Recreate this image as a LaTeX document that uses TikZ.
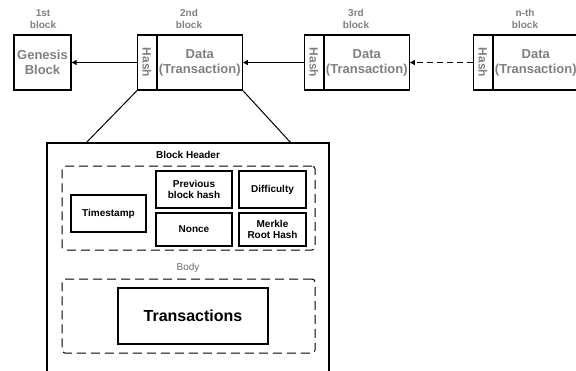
\documentclass[tikz,border=0pt]{standalone}
\usepackage{fontspec}
\setmainfont{Liberation Sans}
\usetikzlibrary{arrows.meta,positioning,calc}

\begin{document}
\begin{tikzpicture}[x=1pt,y=-1pt,
    blk/.style={draw,line width=1.2pt,minimum height=55pt,inner sep=0pt,align=center,
      text=gray,font=\fontsize{13}{15}\selectfont\bfseries},
    hashbox/.style={blk,minimum width=18.5pt,font=\fontsize{12}{13}\selectfont\bfseries},
    fld/.style={draw,line width=1.2pt,inner sep=0pt,align=center,
      font=\fontsize{10}{11.5}\selectfont\bfseries},
    grp/.style={draw,line width=1pt,dash pattern=on 9pt off 5pt,rounded corners=3pt},
    lbl/.style={align=center,text=gray,font=\fontsize{10}{12}\selectfont\bfseries},
    lnk/.style={line width=1pt,-{Triangle[length=5pt,width=5pt]}}]
  \useasboundingbox (0,0) rectangle (576,370);

  % chain of blocks
  \node[blk,minimum width=57pt] (gen) at (42.5,62.5) {Genesis\\Block};
  \node[lbl] (tgen) at (43,19) {1st\\block};
  \foreach \i/\x/\t in {2/137/2nd,3/304/3rd,n/473/n-th}{
    \node[hashbox,anchor=west] (h\i) at (\x,62.5) {\rotatebox{-90}{Hash}};
    \node[blk,minimum width=85pt,anchor=west] (d\i) at (h\i.east) {Data\\(Transaction)};
    \node[lbl] (t\i) at (\x+52,19) {\t\\block};
  }
  \draw[lnk] (h2.west) -- (gen.east);
  \draw[lnk] (h3.west) -- (d2.east);
  \draw[lnk,dash pattern=on 6pt off 4pt] (hn.west) -- (d3.east);

  % zoom into 2nd block
  \draw[line width=1.2pt] (47,375) |- (329,143) -- (329,375);
  \coordinate (tl) at (86,143);
  \coordinate (tr) at (291,143);
  \draw[line width=1pt] (h2.south west) -- (tl);
  \draw[line width=1pt] (d2.south east) -- (tr);

  % header
  \node[font=\fontsize{10}{12}\selectfont\bfseries] (hdr) at (188,155) {Block Header};
  \node[grp,minimum width=253pt,minimum height=84pt] (head) at (188.5,208) {};
  \node[fld,minimum width=75pt,minimum height=37pt] (ts) at (108.5,213.5) {Timestamp};
  \node[fld,minimum width=76pt,minimum height=37pt] (prev) at (194,189.5) {Previous\\block hash};
  \node[fld,minimum width=76pt,minimum height=33pt] (nonce) at (194,229.5) {Nonce};
  \node[fld,minimum width=67pt,minimum height=37pt] (diff) at (272.5,189.5) {Difficulty};
  \node[fld,minimum width=67pt,minimum height=33pt] (merkle) at (272.5,229.5) {Merkle\\Root Hash};

  % body
  \node[text=gray!85!black,font=\fontsize{10}{12}\selectfont] (bodylbl) at (188,268) {Body};
  \node[grp,minimum width=253pt,minimum height=74pt] (body) at (188.5,316) {};
  \node[fld,minimum width=150pt,minimum height=56pt,font=\fontsize{16}{18}\selectfont\bfseries]
    (tx) at (193,316) {Transactions};
\end{tikzpicture}
\end{document}
